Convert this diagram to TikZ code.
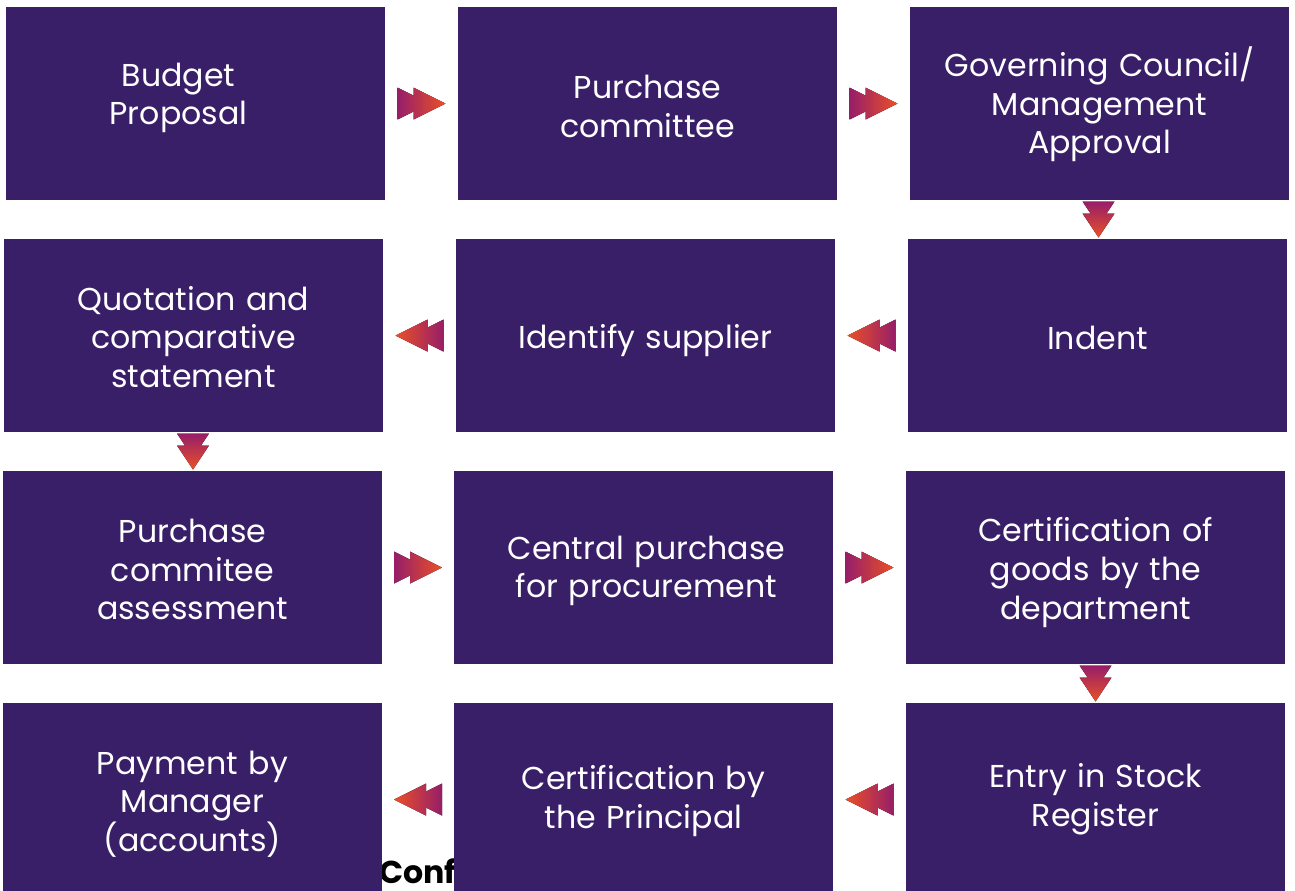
\documentclass[tikz,border=0pt]{standalone}
\usepackage{fontspec}
\setmainfont{Poppins}
\usepackage{tikz}
\definecolor{boxColor}{RGB}{57,30,104}
\definecolor{arrowStart}{RGB}{150,30,105}
\definecolor{arrowEnd}{RGB}{234,80,40}
\tikzstyle{flowchart} = [x = .02cm, y = -.02cm]
\tikzstyle{stageStyle} = [fill=boxColor, minimum width=7.58cm, minimum height=3.86cm, inner sep=0pt]
\tikzstyle{stageText} = [text=white, text width=7.2cm, align=center, inner sep=0pt, font=\fontsize{18}{22}\selectfont]
\tikzstyle{rightShade} = [left color=arrowStart, right color=arrowEnd]
\tikzstyle{leftShade} = [left color=arrowEnd, right color=arrowStart]
\tikzstyle{downShade} = [top color=arrowStart, bottom color=arrowEnd]
% box name, x, y, text offset, text
\newcommand{\stage}[5]{
  \node [stageStyle] (#1) at (#2,#3) {};
  \node [stageText] (#1Text) at ([shift={#4}]#1.center) {#5};
}
\newcommand{\rightArrow}[2]{
  \path (#1.east) -- (#2.west) coordinate [midway] (#1To#2);
  \begin{scope}[shift={(#1To#2)}]
    \fill [rightShade] (-24,-16) -- (-8,-8) -- (-8,-16) -- (24,0) -- (-8,16) -- (-8,8) -- (-24,16) -- cycle;
  \end{scope}
}
\newcommand{\leftArrow}[2]{
  \path (#1.west) -- (#2.east) coordinate [midway] (#1To#2);
  \begin{scope}[shift={(#1To#2)}]
    \fill [leftShade] (24,-16) -- (8,-8) -- (8,-16) -- (-24,0) -- (8,16) -- (8,8) -- (24,16) -- cycle;
  \end{scope}
}
\newcommand{\downArrow}[2]{
  \path (#1.south) -- (#2.north) coordinate [midway] (#1To#2);
  \begin{scope}[shift={(#1To#2)}]
    \fill [downShade] (-16,-18) -- (-8,-6) -- (-16,-6) -- (0,18) -- (16,-6) -- (8,-6) -- (16,-18) -- cycle;
  \end{scope}
}

\begin{document}
\begin{tikzpicture}[flowchart]
  \useasboundingbox (0,0) rectangle (1295,890);
  % cut-off caption under the last row
  \node [anchor=base west, inner sep=0pt, font=\fontsize{18}{20}\selectfont\bfseries] (caption) at (379,883) {Conf};

  \stage{budget}{195.5}{103.5}{(-17,-5.5)}{Budget\\Proposal}
  \stage{committee}{647.5}{103.5}{(0,3)}{Purchase\\committee}
  \stage{council}{1099.5}{103.5}{(0,1)}{Governing Council/\\Management\\Approval}

  \stage{quotation}{193.5}{335.5}{(0,1.5)}{Quotation and\\comparative\\statement}
  \stage{supplier}{645.5}{335.5}{(0,5)}{Identify supplier}
  \stage{indent}{1097.5}{335.5}{(0,2)}{Indent}

  \stage{assessment}{192.5}{567.5}{(0,2)}{Purchase\\commitee\\assessment}
  \stage{central}{643.5}{567.5}{(3,3.5)}{Central purchase\\for procurement}
  \stage{goods}{1095.5}{567.5}{(0,5)}{Certification of\\goods by the\\department}

  \stage{payment}{192.5}{799.5}{(0,4.5)}{Payment by\\Manager\\(accounts)}
  \stage{principal}{643.5}{799.5}{(0,1.5)}{Certification by\\the Principal}
  \stage{stock}{1095.5}{799.5}{(0,0)}{Entry in Stock\\Register}

  \rightArrow{budget}{committee}
  \rightArrow{committee}{council}
  \downArrow{council}{indent}
  \leftArrow{indent}{supplier}
  \leftArrow{supplier}{quotation}
  \downArrow{quotation}{assessment}
  \rightArrow{assessment}{central}
  \rightArrow{central}{goods}
  \downArrow{goods}{stock}
  \leftArrow{stock}{principal}
  \leftArrow{principal}{payment}
\end{tikzpicture}
\end{document}
